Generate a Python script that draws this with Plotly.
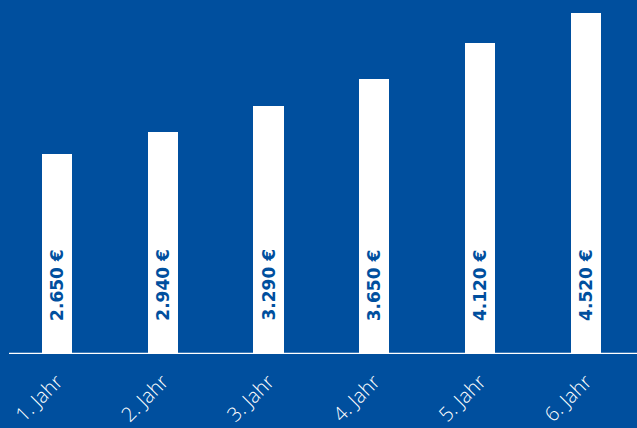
import plotly.graph_objects as go

categories = ["1. Jahr", "2. Jahr", "3. Jahr", "4. Jahr", "5. Jahr", "6. Jahr"]
values = [2650, 2940, 3290, 3650, 4120, 4520]
labels = ["2.650 €", "2.940 €", "3.290 €", "3.650 €", "4.120 €", "4.520 €"]

BG = "#004f9e"

fig = go.Figure()
fig.add_trace(go.Bar(
    x=categories, y=values, width=0.284,
    marker=dict(color="white", line=dict(width=0)),
    hoverinfo="skip",
))

for c, l in zip(categories, labels):
    fig.add_annotation(
        x=c, y=0, text=l, textangle=-90, showarrow=False,
        yanchor="bottom", xanchor="center", yshift=31,
        font=dict(family="DejaVu Sans, sans-serif",
                  size=17, color=BG, weight="bold"),
    )

fig.add_shape(type="line", xref="paper", yref="y", x0=(9 - 4) / 633, x1=1, y0=0, y1=0,
              line=dict(color="white", width=2.5))

fig.update_layout(
    width=637, height=428,
    margin=dict(l=4, r=0, t=0, b=74),
    paper_bgcolor=BG, plot_bgcolor=BG,
    showlegend=False,
    bargap=0,
    xaxis=dict(range=[-0.5, 5.483], showgrid=False, zeroline=False, showline=False,
               ticks="", tickangle=-45, ticklabelstandoff=11,
               tickfont=dict(family="Open Sans, sans-serif", size=20, color="white", weight=300)),
    yaxis=dict(range=[0, 4692.6], visible=False, showgrid=False, zeroline=False),
)

fig.write_html("out.html", config={"displayModeBar": False},
               post_script="document.body.style.margin='0';document.body.style.background='%s';" % BG)
